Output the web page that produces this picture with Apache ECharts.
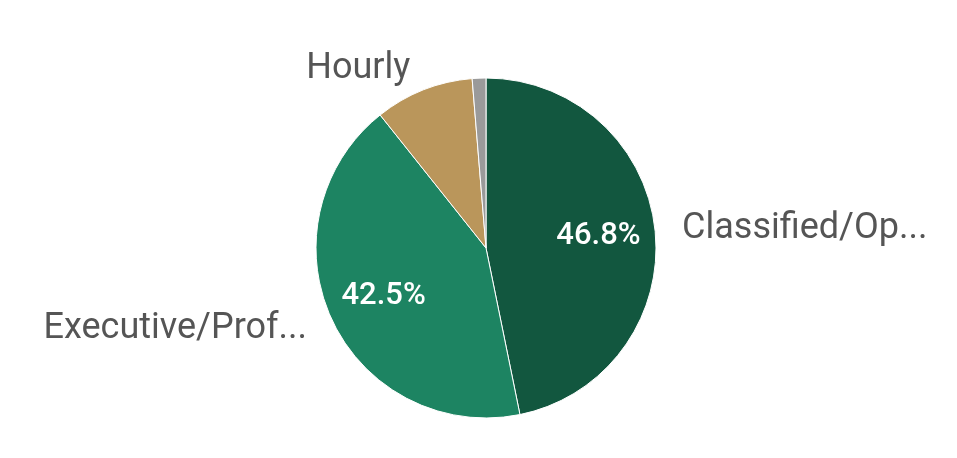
<!DOCTYPE html>
<html>
<head>
<meta charset="utf-8">
<script src="https://cdn.jsdelivr.net/npm/echarts@6/dist/echarts.min.js"></script>
<style>
  html, body { margin: 0; padding: 0; background: #fff; }
  #chart { width: 957px; height: 458px; }
</style>
</head>
<body>
<div id="chart"></div>
<script>
// slices, clockwise from 12 o'clock
const names = ['Classified/Op...', 'Executive/Prof...', 'Hourly', 'Other']
const values = [46.8, 42.5, 9.4, 1.3]
const colors = ['#12573F', '#1D8462', '#BA965B', '#9A9A9A']
const pctShown = [true, true, false, false]

const chart = echarts.init(document.getElementById('chart'))

const center = [486, 248]

const option = {
  backgroundColor: '#fff',
  animation: false,
  series: [
    {
      type: 'pie',
      center: center,
      radius: 170,
      startAngle: 90,
      clockwise: true,
      silent: true,
      minShowLabelAngle: 6,
      itemStyle: { borderColor: '#fff', borderWidth: 1 },
      label: {
        show: true,
        position: 'outside',
        formatter: '{b}',
        color: '#555',
        fontFamily: 'Roboto',
        fontSize: 36,
      },
      labelLine: { show: false, length: 22, length2: 0 },
      data: names.map((n, i) => ({ name: n, value: values[i], itemStyle: { color: colors[i] } })),
    },
    {
      // overlay just for the percentage labels inside the big slices
      type: 'pie',
      center: center,
      radius: [50, 170],
      startAngle: 90,
      clockwise: true,
      silent: true,
      itemStyle: { color: 'transparent' },
      label: {
        position: 'inside',
        formatter: p => p.value.toFixed(1) + '%',
        color: '#fff',
        fontFamily: 'Roboto',
        fontWeight: 500,
        fontSize: 31,
      },
      labelLine: { show: false },
      data: names.map((n, i) => ({ name: n, value: values[i], label: { show: pctShown[i] } })),
    },
  ],
}

chart.setOption(option)
</script>
</body>
</html>
